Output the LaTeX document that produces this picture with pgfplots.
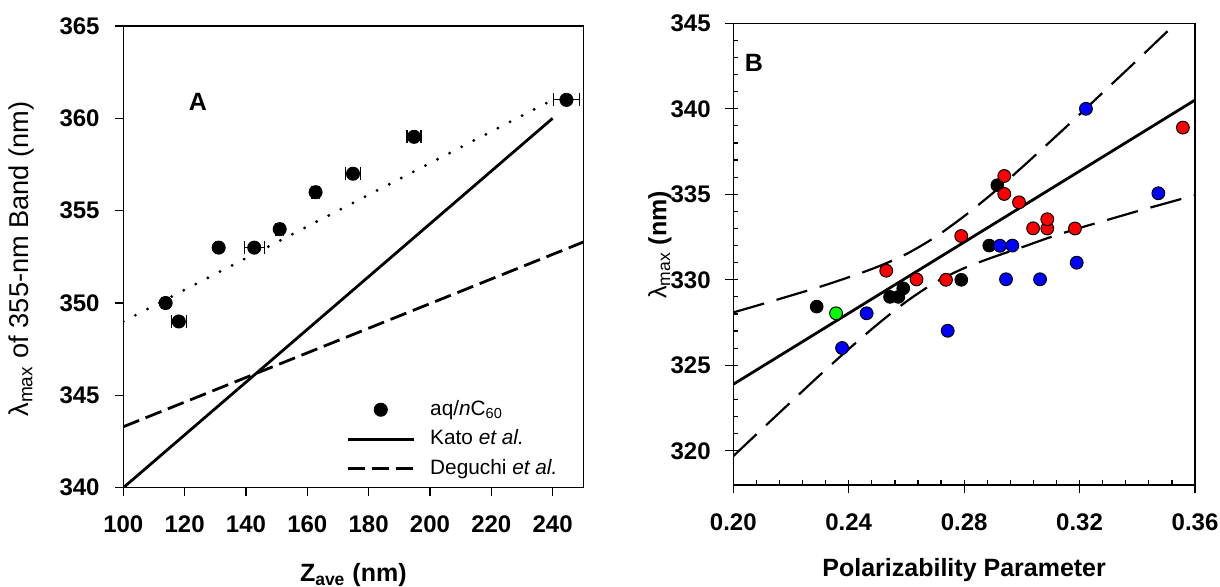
\documentclass[border=0pt]{standalone}
\usepackage{fontspec}
\setmainfont{Liberation Sans}
\usepackage{pgfplots}
\pgfplotsset{compat=1.18}
\pgfplotsset{
  lineleg/.style={legend image code/.code={\draw[##1] (0pt,0pt) -- (33pt,0pt);}},
  markleg/.style={legend image code/.code={\draw[mark repeat=2,mark phase=2,##1] plot coordinates {(0pt,0pt) (16.5pt,0pt) (33pt,0pt)};}},
}
\begin{document}
\begin{tikzpicture}
\pgfplotsset{
  every axis/.append style={
    scale only axis,
    axis line style={line width=0.6pt},
    every tick/.style={line width=0.6pt,black},
    /pgf/number format/assume math mode=true,
    tick label style={font=\bfseries\fontsize{12}{14}\selectfont},
  }
}
% ---------------- Panel A ----------------
\begin{axis}[
  at={(61.65pt,49.65pt)}, anchor=south west,
  width=230pt, height=230.85pt,
  xmin=100, xmax=250, ymin=340, ymax=365,
  xtick={100,120,...,240}, ytick={340,345,...,365},
  tick pos=left, tick align=outside, major tick length=4pt,
  xticklabel style={anchor=north, inner sep=0pt, yshift=-9.65pt},
  yticklabel style={anchor=east, inner sep=0pt, xshift=-7.65pt},
  xlabel={\bfseries Z\textsubscript{ave} (nm)},
  xlabel style={at={(axis description cs:0.5,-0.2036)}, anchor=base, font=\fontsize{12.5}{15}\selectfont, inner sep=0pt},
  ylabel={λ\textsubscript{max} of 355-nm Band (nm)},
  ylabel style={at={(axis description cs:-0.2224,0.4953)}, anchor=center, font=\fontsize{13.6}{16}\selectfont, inner sep=0pt},
  legend cell align=left,
  legend style={draw=none, fill=none, at={(axis description cs:0.4841,0.191)}, anchor=north west,
    inner sep=0pt, row sep=4.95pt, column sep=7.5pt, font=\fontsize{10.4}{12}\selectfont,
    nodes={inner sep=0pt, text height=7.6pt, text depth=2.2pt}},
]
\addplot[black, line width=1.6pt, line cap=round, dash pattern=on 0pt off 6.8pt, forget plot]
  coordinates {(100,349.0) (240,361.0)};
\addplot[black, only marks, mark=*, mark size=3.3pt, markleg,
  error bars/.cd, x dir=both, x explicit,
  error bar style={line width=0.6pt, black},
  error mark options={rotate=90, mark size=3.2pt, line width=0.6pt, black}]
  table[x=x, y=y, x error=ex] {
x y ex
113.8 350 1.2
118.1 349 2.5
131.1 353 1.0
142.7 353 3.3
151.0 354 1.2
162.7 356 1.2
174.9 357 2.5
194.8 359 2.3
244.5 361 4.2
};
\addlegendentry{aq/\textit{n}C\textsubscript{60}}
\addplot[black, line width=1.4pt, lineleg]
  coordinates {(100,340) (240,360)};
\addlegendentry{Kato \textit{et al.}}
\addplot[black, line width=1.4pt, dash pattern=on 8.5pt off 3.5pt, lineleg]
  coordinates {(100,343.3) (250,353.3)};
\addlegendentry{Deguchi \textit{et al.}}
\node[font=\bfseries\fontsize{12.5}{15}\selectfont] at (rel axis cs:0.1624,0.836) {A};
\end{axis}
% ---------------- Panel B ----------------
\begin{axis}[
  at={(366.65pt,51pt)}, anchor=south west,
  width=230.85pt, height=230.85pt,
  xmin=0.2, xmax=0.36, ymin=318, ymax=345,
  xtick={0.2,0.24,0.28,0.32,0.36}, xticklabels={0.20,0.24,0.28,0.32,0.36},
  ytick={320,325,...,345},
  minor x tick num=4, minor y tick num=4,
  tick pos=left, tick align=inside,
  major tick length=6.5pt, minor tick length=2.5pt,
  major x tick style={yshift=-4pt}, major y tick style={xshift=-4pt},
  xticklabel style={anchor=north, inner sep=0pt, yshift=-14pt},
  yticklabel style={anchor=east, inner sep=0pt, xshift=-11.15pt},
  xlabel={\bfseries Polarizability Parameter},
  xlabel style={at={(axis description cs:0.5,-0.1986)}, anchor=base, font=\fontsize{12.5}{15}\selectfont, inner sep=0pt},
  ylabel={λ\textsubscript{max} \textbf{(nm)}},
  ylabel style={at={(axis description cs:-0.1588,0.52)}, anchor=center, font=\fontsize{12.5}{15}\selectfont, inner sep=0pt},
]
\addplot[black, line width=1.4pt] coordinates {(0.2,323.89) (0.36,340.51)};
\addplot[black, line width=1.1pt, dash pattern=on 16pt off 6.5pt, smooth] coordinates {
(0.20,328.09) (0.21,328.58) (0.22,329.08) (0.23,329.59) (0.24,330.15) (0.25,330.76)
(0.26,331.51) (0.27,332.50) (0.28,333.72) (0.29,335.08) (0.30,336.57) (0.31,338.11)
(0.32,339.67) (0.33,341.26) (0.34,342.85) (0.35,344.46) (0.36,346.07)};
\addplot[black, line width=1.1pt, dash pattern=on 16pt off 6.5pt, smooth] coordinates {
(0.20,319.69) (0.21,321.28) (0.22,322.86) (0.23,324.43) (0.24,325.95) (0.25,327.40)
(0.26,328.73) (0.27,329.85) (0.28,330.68) (0.29,331.32) (0.30,331.90) (0.31,332.50)
(0.32,333.03) (0.33,333.52) (0.34,334.01) (0.35,334.48) (0.36,334.95)};
% black
\addplot[only marks, mark=*, mark size=3.2pt, draw=black, fill=black] coordinates {
(0.2915,335.53) (0.2887,332.0) (0.2790,330.0) (0.2543,329.0) (0.2572,329.0) (0.2589,329.5) (0.2289,328.43)};
% blue
\addplot[only marks, mark=*, mark size=3.2pt, draw=black, fill=blue, mark options={line width=0.5pt}] coordinates {
(0.2462,328.04) (0.2377,326.01) (0.2743,327.02) (0.2924,331.99) (0.2967,332.0) (0.2945,330.03)
(0.3063,330.03) (0.3190,331.0) (0.3222,340.0) (0.3473,335.06)};
% red
\addplot[only marks, mark=*, mark size=3.2pt, draw=black, fill=red, mark options={line width=0.5pt}] coordinates {
(0.2530,330.53) (0.2635,330.02) (0.2737,330.0) (0.2790,332.56) (0.2939,336.07) (0.2939,335.02)
(0.2990,334.53) (0.3039,333.01) (0.3088,333.0) (0.3088,333.54) (0.3184,333.0) (0.3558,338.9)};
% green
\addplot[only marks, mark=*, mark size=3.2pt, draw=black, fill=green, mark options={line width=0.5pt}] coordinates {
(0.2356,328.04)};
\node[font=\bfseries\fontsize{12.5}{15}\selectfont] at (rel axis cs:0.0448,0.914) {B};
\end{axis}
\pgfresetboundingbox
\path[use as bounding box] (0,0) rectangle (610pt,293.5pt);
\end{tikzpicture}
\end{document}
